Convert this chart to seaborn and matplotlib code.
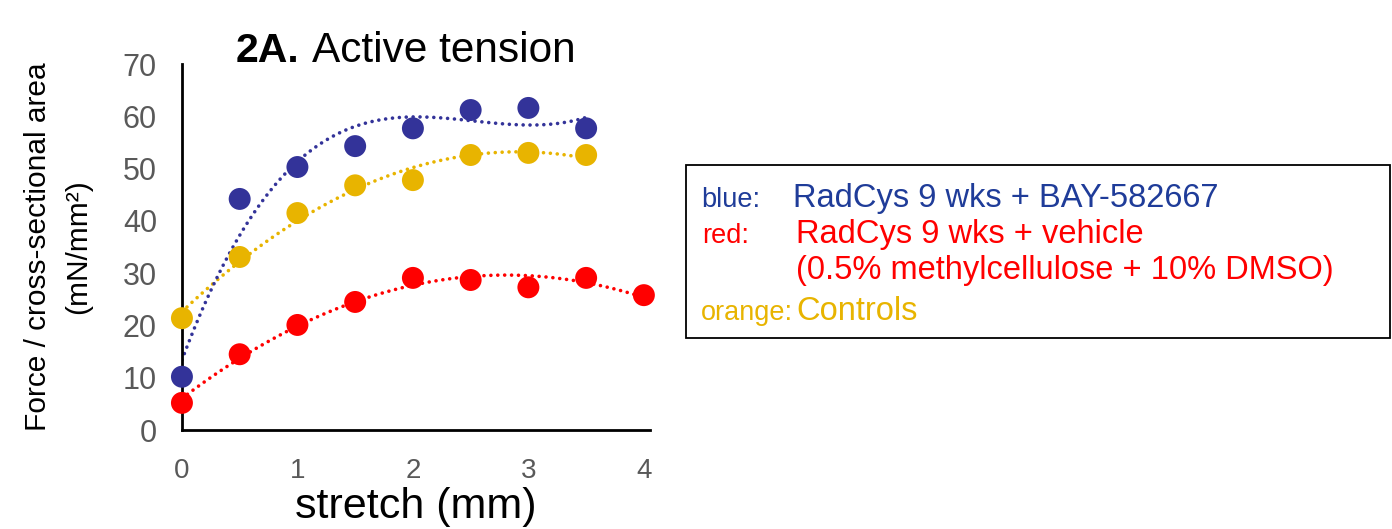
import pandas as pd
import matplotlib
matplotlib.use("Agg")
import matplotlib.pyplot as plt
from matplotlib.patches import Rectangle
import seaborn as sns

# Data
stretch_bay = [0, 0.5, 1, 1.5, 2, 2.5, 3, 3.5]
force_bay = [10.2, 44.2, 50.3, 54.3, 57.7, 61.2, 61.6, 57.7]

stretch_ctrl = [0, 0.5, 1, 1.5, 2, 2.5, 3, 3.5]
force_ctrl = [21.4, 33.1, 41.5, 46.8, 47.8, 52.6, 53.0, 52.6]

stretch_veh = [0, 0.5, 1, 1.5, 2, 2.5, 3, 3.5, 4]
force_veh = [5.2, 14.5, 20.1, 24.5, 29.1, 28.7, 27.3, 29.1, 25.8]

x_ticks = [0, 1, 2, 3, 4]
y_ticks = [0, 10, 20, 30, 40, 50, 60, 70]

df_bay = pd.DataFrame({'stretch': stretch_bay, 'force': force_bay})
df_ctrl = pd.DataFrame({'stretch': stretch_ctrl, 'force': force_ctrl})
df_veh = pd.DataFrame({'stretch': stretch_veh, 'force': force_veh})

blue = '#333399'
orange = '#E8B400'
red = '#FF0000'

sns.set_style("white")
plt.rcParams['font.family'] = ['Liberation Sans', 'DejaVu Sans']
plt.rcParams['text.color'] = 'black'
plt.rcParams['axes.labelcolor'] = 'black'

fig = plt.figure(figsize=(13.92, 5.29), dpi=100)
ax = fig.add_axes([0.1307, 0.187, 0.336, 0.692])

# polynomial trendlines + markers
for df, col, order in [(df_ctrl, orange, 2), (df_bay, blue, 3), (df_veh, red, 2)]:
    sns.regplot(data=df, x='stretch', y='force', order=order, ci=None,
                scatter=False, ax=ax,
                line_kws={'color': col, 'linestyle': (0, (0.01, 1.9)),
                          'linewidth': 2.6, 'dash_capstyle': 'round'})
for df, col in [(df_ctrl, orange), (df_bay, blue), (df_veh, red)]:
    sns.scatterplot(data=df, x='stretch', y='force', color=col, s=250,
                    edgecolor='none', ax=ax, clip_on=False, zorder=3)

ax.set_xlim(0, 4.05)
ax.set_ylim(0, 70)
ax.set_xticks(x_ticks)
ax.set_yticks(y_ticks)
ax.tick_params(axis='y', length=0, labelsize=22, labelcolor='#595959', pad=18)
ax.tick_params(axis='x', length=0, labelsize=20, labelcolor='#595959', pad=20)
for side in ['top', 'right']:
    ax.spines[side].set_visible(False)
for side in ['left', 'bottom']:
    ax.spines[side].set_color('black')
    ax.spines[side].set_linewidth(2)

ax.set_xlabel('stretch (mm)', fontsize=31, labelpad=2)
ax.set_ylabel('Force / cross-sectional area\n(mN/mm²)', fontsize=21.5, labelpad=22,
              linespacing=1.55)

# title: bold "2A." followed by regular text
fig.text(236 / 1392, 1 - 62 / 529, '2A.', fontsize=29.5, fontweight='bold',
         ha='left', va='baseline')
fig.text(312 / 1392, 1 - 62 / 529, 'Active tension', fontsize=30.5,
         ha='left', va='baseline')

# legend box with colored text
fig.patches.append(Rectangle((686 / 1392, 1 - 338 / 529), 704 / 1392, 173 / 529,
                             transform=fig.transFigure, facecolor='white',
                             edgecolor='black', linewidth=1.3))
label_font = 19.5
entry_font = 23.5
labels = [
    (701, 207, 'blue:', '#1F3C99'),
    (702, 243, 'red:', red),
    (701, 320, 'orange:', orange),
]
entries = [
    (793, 207, 'RadCys 9 wks + BAY-582667', '#1F3C99'),
    (796, 243, 'RadCys 9 wks + vehicle', red),
    (796, 279, '(0.5% methylcellulose + 10% DMSO)', red),
    (796, 320, 'Controls', orange),
]
for px, py, txt, col in labels:
    fig.text(px / 1392, 1 - py / 529, txt, color=col, fontsize=label_font,
             ha='left', va='baseline')
for px, py, txt, col in entries:
    fig.text(px / 1392, 1 - py / 529, txt, color=col, fontsize=entry_font,
             ha='left', va='baseline')

fig.savefig('out.png', dpi=100)
